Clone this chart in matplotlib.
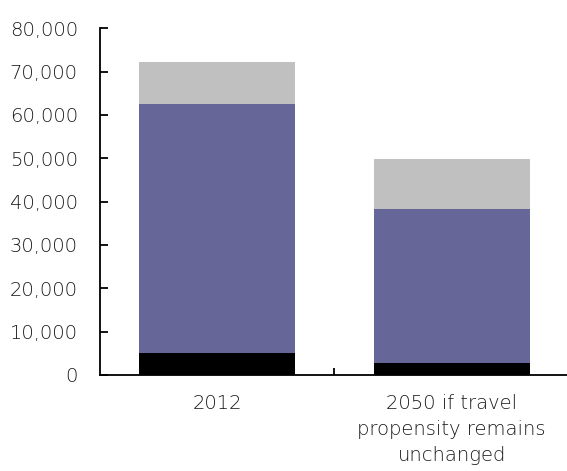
import matplotlib
matplotlib.use("Agg")
import matplotlib.pyplot as plt
import numpy as np

plt.rcParams['font.family'] = ['DejaVu Sans']
plt.rcParams['font.weight'] = 200

categories = ["2012", "2050 if travel\npropensity remains\nunchanged"]
bottom_black = [5150, 2850]
middle_purple = [57450, 35450]
top_gray = [9600, 11600]

fig = plt.figure(figsize=(5.67, 4.71), dpi=100)
ax = fig.add_axes([100 / 567, 96 / 471, 469 / 567, 346.7 / 471])

x = np.arange(len(categories))
w = 0.665
b1 = np.array(bottom_black)
b2 = b1 + np.array(middle_purple)
ax.bar(x, bottom_black, w, color="#000000", edgecolor="none")
ax.bar(x, middle_purple, w, bottom=b1, color="#666699", edgecolor="none")
ax.bar(x, top_gray, w, bottom=b2, color="#C0C0C0", edgecolor="none")

ax.set_xlim(-0.5, 1.5)
ax.set_ylim(0, 80000)
ax.set_yticks(np.arange(0, 80001, 10000))
ax.set_yticklabels([f"{v:,}" for v in range(0, 80001, 10000)], fontsize=14, color="#1a1a1a")
ax.set_xticks(x)
ax.set_xticklabels(categories, fontsize=14, color="#1a1a1a", linespacing=1.45)
ax.tick_params(axis="x", length=0, pad=14)
ax.set_xticks([0.5], minor=True)
ax.tick_params(axis="x", which="minor", direction="in", length=5, width=1.3)
ax.tick_params(axis="y", direction="in", length=6, width=1.3, pad=16)

for s in ["top", "right"]:
    ax.spines[s].set_visible(False)
for s in ["left", "bottom"]:
    ax.spines[s].set_linewidth(1.3)

fig.savefig("out.png", dpi=100)
